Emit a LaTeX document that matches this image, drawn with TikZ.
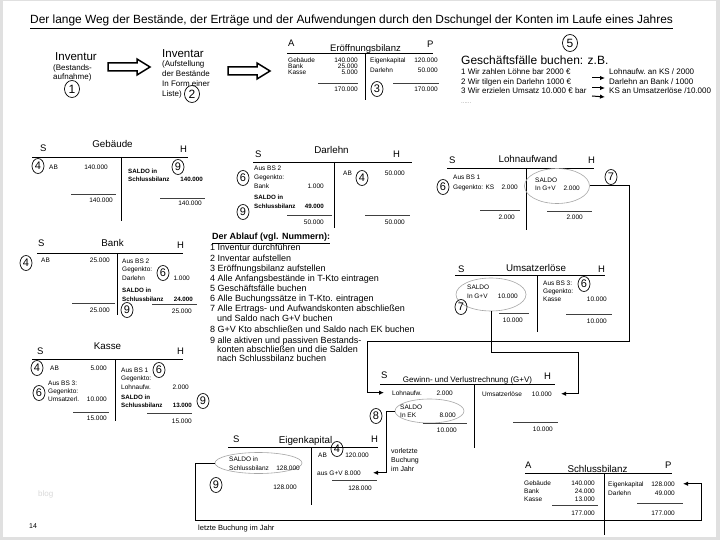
\documentclass[tikz,border=0pt]{standalone}
\usepackage{fontspec}
\setmainfont{Liberation Sans}
\usetikzlibrary{shapes.geometric,arrows.meta}
\tikzset{
 sm/.style={font=\fontsize{6.5}{7}\selectfont, inner sep=0},
 smb/.style={font=\bfseries\fontsize{6.2}{7}\selectfont, inner sep=0},
 L/.style={anchor=base west},
 R/.style={anchor=base east},
 ttl/.style={font=\fontsize{9.8}{11}\selectfont, inner sep=0, anchor=base},
 sh/.style={font=\fontsize{9.5}{11}\selectfont, inner sep=0, anchor=base west},
 mid/.style={font=\fontsize{8}{10}\selectfont, inner sep=0, anchor=base west},
 lst/.style={font=\fontsize{9}{10}\selectfont, inner sep=0, anchor=base west},
 big/.style={font=\fontsize{11.5}{13}\selectfont, inner sep=0, anchor=base west},
 num/.style={draw, ellipse, minimum width=12pt, minimum height=15pt, inner sep=0, line width=0.7pt, font=\fontsize{11}{11}\selectfont},
 bignum/.style={num, minimum width=15pt, minimum height=17pt, font=\fontsize{12}{12}\selectfont},
 tline/.style={line width=0.9pt},
 sline/.style={line width=0.7pt, black!75},
 sal/.style={draw=black!35, ellipse, line width=0.6pt, inner sep=0},
 conn/.style={line width=1pt},
 tip/.style={-{Latex[length=5pt,width=4.5pt]}},
 outarrow/.style={draw, line width=1.5pt, fill=white, line join=miter},
}
\begin{document}
\begin{tikzpicture}[x=1pt,y=-1pt]
\useasboundingbox (0,0) rectangle (720,540);
\fill[black!12] (0,0) rectangle (720,540);
\fill[white] (3,1) rectangle (716,537);

% title
\node[font=\fontsize{11.9}{13}\selectfont, inner sep=0, anchor=base west] (title) at (30,24) {\underline{Der lange Weg der Bestände, der Erträge und der Aufwendungen durch den Dschungel der Konten im Laufe eines Jahres}};

% Inventur / Inventar
\node[big] (inv) at (55,61) {Inventur};
\node[mid] (inv1) at (53,71) {(Bestands-};
\node[mid] (inv2) at (53,80) {aufnahme)};
\node[bignum] (c1) at (72,89) {1};
\draw[outarrow] (108,63) -- (137,63) -- (137,59) -- (150,67) -- (137,75) -- (137,71) -- (108,71) -- cycle;
\node[big] (ivt) at (162,58) {Inventar};
\node[mid] (ivt1) at (162,67) {(Aufstellung};
\node[mid] (ivt2) at (162,77) {der Bestände};
\node[mid] (ivt3) at (162,87) {In Form einer};
\node[mid] (ivt4) at (162,97) {Liste)};
\node[bignum] (c2) at (192,94) {2};
\draw[outarrow] (228,67) -- (257,67) -- (257,63) -- (270,71) -- (257,79) -- (257,75) -- (228,75) -- cycle;

% Eröffnungsbilanz
\node[sh] (eA) at (288,47) {A};
\node[font=\fontsize{9.5}{11}\selectfont, inner sep=0, anchor=base] (eT) at (365.5,52) {Eröffnungsbilanz};
\node[sh] (eP) at (427,48) {P};
\draw[tline] (287,53) -- (433,53);
\draw[tline] (365,53) -- (365,100);
\node[sm,L] (e1) at (288,62.5) {Gebäude}; \node[sm,R] (e1n) at (358,62.5) {140.000};
\node[sm,L] (e2) at (288,68.5) {Bank}; \node[sm,R] (e2n) at (358,68.5) {25.000};
\node[sm,L] (e3) at (288,74.5) {Kasse}; \node[sm,R] (e3n) at (358,74.5) {5.000};
\draw[sline] (318,83) -- (358,83);
\node[sm,R] (e4n) at (358,92) {170.000};
\node[sm,L] (e5) at (370,63) {Eigenkapital}; \node[sm,R] (e5n) at (438,63) {120.000};
\node[sm,L] (e6) at (370,73) {Darlehn}; \node[sm,R] (e6n) at (438,73) {50.000};
\draw[sline] (393,83) -- (439,83);
\node[sm,R] (e7n) at (438,92) {170.000};
\node[num] (c3) at (377,89) {3};

% Geschäftsfälle
\node[bignum] (c5) at (570,43) {5};
\node[font=\fontsize{12}{13}\selectfont, inner sep=0, anchor=base west] (gf) at (461,65) {Geschäftsfälle buchen: z.B.};
\node[mid] (gf1) at (461,75) {1 Wir zahlen Löhne bar 2000 €};
\node[mid] (gf2) at (461,85) {2 Wir tilgen ein Darlehn 1000 €};
\node[mid] (gf3) at (461,94) {3 Wir erzielen Umsatz 10.000 € bar};
\node[font=\fontsize{6}{7}\selectfont, inner sep=0, anchor=base west, black!45] (gf4) at (461,104) {......};
\node[mid] (gr1) at (609,75) {Lohnaufw.\ an KS / 2000};
\node[mid] (gr2) at (609,85) {Darlehn an Bank / 1000};
\node[mid] (gr3) at (609,94) {KS an Umsatzerlöse /10.000};
\draw[conn,tip] ([xshift=-17pt,yshift=-3pt]gr1.base west) -- ([xshift=-4pt,yshift=-3pt]gr1.base west);
\draw[conn,tip] ([xshift=-17pt,yshift=-3pt]gr2.base west) -- ([xshift=-4pt,yshift=-3pt]gr2.base west);
\draw[conn,tip] ([xshift=-17pt,yshift=-2pt]gr3.base west) -- ([xshift=-4pt,yshift=-3pt]gr3.base west);

% Gebäude
\node[sh] (gS) at (40,152) {S};
\node[ttl] (gT) at (112.5,148) {Gebäude};
\node[sh] (gH) at (180,153) {H};
\draw[tline] (32,157) -- (188,157);
\draw[tline] (121,157) -- (121,221);
\node[num] (g4) at (38,166) {4};
\node[sm,L] (g1) at (49,170) {AB}; \node[sm,R] (g1n) at (108,170) {140.000};
\draw[sline] (71,194) -- (116,194);
\node[sm,R] (g2n) at (113,203) {140.000};
\node[smb,L] (g3) at (128,174) {SALDO in};
\node[smb,L] (g3b) at (128,182) {Schlussbilanz}; \node[smb,R] (g3n) at (203,182) {140.000};
\node[num] (g9) at (178,167) {9};
\draw[sline] (160,198) -- (205,198);
\node[sm,R] (g4n) at (202,206) {140.000};

% Darlehn
\node[sh] (dS) at (255,158) {S};
\node[ttl] (dT) at (331.5,154) {Darlehn};
\node[sh] (dH) at (393,158) {H};
\draw[tline] (253,162) -- (412,162);
\draw[tline] (334,162) -- (334,228);
\node[num] (d6) at (243,178) {6};
\node[sm,L] (d1) at (254,171) {Aus BS 2};
\node[sm,L] (d2) at (254,180) {Gegenkto:};
\node[sm,L] (d3) at (254,189) {Bank}; \node[sm,R] (d3n) at (324,189) {1.000};
\node[smb,L] (d4) at (254,200) {SALDO in};
\node[smb,L] (d5) at (254,208) {Schlussbilanz}; \node[smb,R] (d5n) at (324,208) {49.000};
\node[num] (d9) at (243,212) {9};
\draw[sline] (287,215) -- (332,215);
\node[sm,R] (d6n) at (324,225) {50.000};
\node[sm,L] (d7) at (343,176) {AB};
\node[num] (d4c) at (362,178) {4};
\node[sm,R] (d7n) at (405,176) {50.000};
\draw[sline] (365,215) -- (410,215);
\node[sm,R] (d8n) at (405,225) {50.000};

% Lohnaufwand
\node[sh] (lS) at (449,164) {S};
\node[ttl] (lT) at (528,163) {Lohnaufwand};
\node[sh] (lH) at (588,164) {H};
\draw[tline] (447,168) -- (594,168);
\draw[tline] (526,168) -- (526,230);
\node[num] (l6) at (443,187) {6};
\node[sm,L] (l1) at (453,180) {Aus BS 1};
\node[sm,L] (l2) at (453,190) {Gegenkto: KS}; \node[sm,R] (l2n) at (518,190) {2.000};
\draw[sline] (480,210) -- (520,210);
\node[sm,R] (l3n) at (515,220) {2.000};
\node[sal, minimum width=65pt, minimum height=35pt] (lel) at (557,186) {};
\node[sm,L] (l4) at (535,183) {SALDO};
\node[sm,L] (l5) at (535,191) {In G+V}; \node[sm,R] (l5n) at (580,191) {2.000};
\draw[sline] (547,211) -- (592,211);
\node[sm,R] (l6n) at (583,220) {2.000};
\node[num] (l7) at (611,177) {7};

% Bank
\node[sh] (bS) at (38,247) {S};
\node[ttl] (bT) at (112.5,246) {Bank};
\node[sh] (bH) at (177,248) {H};
\draw[tline] (37,253) -- (183,253);
\draw[tline] (117,253) -- (117,315);
\node[num] (b4) at (26,263) {4};
\node[sm,L] (b1) at (41,262) {AB}; \node[sm,R] (b1n) at (110,262) {25.000};
\draw[sline] (72,303) -- (115,303);
\node[sm,R] (b2n) at (110,312) {25.000};
\node[sm,L] (b3) at (122,263) {Aus BS 2};
\node[sm,L] (b4t) at (122,271) {Gegenkto:};
\node[sm,L] (b5) at (122,280) {Darlehn};
\node[num] (b6) at (163,273) {6};
\node[sm,R] (b5n) at (190,280) {1.000};
\node[smb,L] (b7) at (122,292) {SALDO in};
\node[smb,L] (b8) at (122,301) {Schlussbilanz}; \node[smb,R] (b8n) at (193,301) {24.000};
\node[num] (b9) at (127,310) {9};
\draw[sline] (152,304) -- (197,304);
\node[sm,R] (b9n) at (192,313) {25.000};

% Ablauf
\node[font=\bfseries\fontsize{9}{10}\selectfont, inner sep=0, anchor=base west] (ah) at (212,240) {\underline{Der Ablauf (vgl. Nummern):}};
\node[lst] (a1) at (210,251) {1 Inventur durchführen};
\node[lst] (a2) at (210,261) {2 Inventar aufstellen};
\node[lst] (a3) at (210,271) {3 Eröffnungsbilanz aufstellen};
\node[lst] (a4) at (210,281) {4 Alle Anfangsbestände in T-Kto eintragen};
\node[lst] (a5) at (210,291) {5 Geschäftsfälle buchen};
\node[lst] (a6) at (210,301) {6 Alle Buchungssätze in T-Kto. eintragen};
\node[lst] (a7) at (210,311) {7 Alle Ertrags- und Aufwandskonten abschließen};
\node[lst] (a7b) at (217,321) {und Saldo nach G+V buchen};
\node[lst] (a8) at (210,332) {8 G+V Kto abschließen und Saldo nach EK buchen};
\node[lst] (a9) at (210,343) {9 alle aktiven und passiven Bestands-};
\node[lst] (a9b) at (217,352) {konten abschließen und die Salden};
\node[lst] (a9c) at (217,361) {nach Schlussbilanz buchen};

% Umsatzerlöse
\node[sh] (uS) at (458,272) {S};
\node[ttl] (uT) at (536,271) {Umsatzerlöse};
\node[sh] (uH) at (598,272) {H};
\draw[tline] (455,275) -- (605,275);
\draw[tline] (537,275) -- (537,332);
\node[sal, minimum width=70pt, minimum height=33pt] (uel) at (491,294.5) {};
\node[sm,L] (u1) at (467,289) {SALDO};
\node[sm,L] (u2) at (467,298) {In G+V}; \node[sm,R] (u2n) at (518,298) {10.000};
\node[num] (u7) at (461,307) {7};
\draw[sline] (499,313) -- (529,313);
\node[sm,R] (u3n) at (523,322) {10.000};
\node[sm,L] (u4) at (543,285) {Aus BS 3:};
\node[num] (u6) at (584,284) {6};
\node[sm,L] (u5) at (543,293) {Gegenkto:};
\node[sm,L] (u6t) at (543,301) {Kasse}; \node[sm,R] (u6n) at (607,301) {10.000};
\draw[sline] (566,314) -- (612,314);
\node[sm,R] (u7n) at (607,323) {10.000};

% Kasse
\node[sh] (kS) at (37,354) {S};
\node[ttl] (kT) at (107.5,349) {Kasse};
\node[sh] (kH) at (177,354) {H};
\draw[tline] (32,359) -- (183,359);
\draw[tline] (115,359) -- (115,421);
\node[num] (k4) at (37,368) {4};
\node[sm,L] (k1) at (50,370) {AB}; \node[sm,R] (k1n) at (107,370) {5.000};
\node[num] (k6) at (39,393) {6};
\node[sm,L] (k2) at (48,385) {Aus BS 3:};
\node[sm,L] (k3) at (48,393) {Gegenkto:};
\node[sm,L] (k4t) at (48,401) {Umsatzerl.}; \node[sm,R] (k4n) at (107,401) {10.000};
\draw[sline] (73,412) -- (109,412);
\node[sm,R] (k5n) at (107,420) {15.000};
\node[sm,L] (k6t) at (121,372) {Aus BS 1};
\node[num] (k6c) at (159,370) {6};
\node[sm,L] (k7) at (121,380) {Gegenkto:};
\node[sm,L] (k8) at (121,389) {Lohnaufw.}; \node[sm,R] (k8n) at (189,389) {2.000};
\node[smb,L] (k9) at (121,399) {SALDO in};
\node[smb,L] (k10) at (121,407) {Schlussbilanz}; \node[smb,R] (k10n) at (192,407) {13.000};
\node[num] (k9c) at (203,401) {9};
\draw[sline] (147,413) -- (192,413);
\node[sm,R] (k11n) at (192,423) {15.000};

% GuV
\node[sh] (vS) at (381,378) {S};
\node[font=\fontsize{8}{9}\selectfont, inner sep=0, anchor=base] (vT) at (467.5,382) {Gewinn- und Verlustrechnung (G+V)};
\node[sh] (vH) at (544,379) {H};
\draw[tline] (380,384) -- (555,384);
\draw[tline] (474,384) -- (474,448);
\node[sm,L] (gl1) at (392,395) {Lohnaufw.}; \node[sm,R] (gl1n) at (453,395) {2.000};
\node[sal, minimum width=69pt, minimum height=24pt] (gel) at (429.5,411) {};
\node[sm,L] (gl2) at (400,409) {SALDO};
\node[sm,L] (gl3) at (400,417) {In EK}; \node[sm,R] (gl3n) at (456,417) {8.000};
\node[num] (v8) at (376,416) {8};
\draw[sline] (423,423) -- (467,423);
\node[sm,R] (gl4n) at (457,432) {10.000};
\node[sm,L] (gu1) at (482,396) {Umsatzerlöse}; \node[sm,R] (gu2) at (552,396) {10.000};
\draw[sline] (513,422) -- (558,422);
\node[sm,R] (gu3) at (553,431) {10.000};
\node[font=\fontsize{7}{8}\selectfont, inner sep=0, anchor=base west] (vl1) at (391,453) {vorletzte};
\node[font=\fontsize{7}{8}\selectfont, inner sep=0, anchor=base west] (vl2) at (391,462) {Buchung};
\node[font=\fontsize{7}{8}\selectfont, inner sep=0, anchor=base west] (vl3) at (391,471) {im Jahr};

% Eigenkapital
\node[sh] (ekS) at (233,442) {S};
\node[ttl] (ekT) at (305.5,443) {Eigenkapital};
\node[sh] (ekH) at (371,442) {H};
\draw[tline] (228,447) -- (378,447);
\draw[tline] (311,447) -- (311,505);
\node[num] (ek4c) at (337,449) {4};
\node[sm,L] (ek1) at (318,457) {AB}; \node[sm,R] (ek1n) at (369,457) {120.000};
\node[sm,L] (ek2) at (317,475) {aus G+V}; \node[sm,R] (ek4) at (361,475) {8.000};
\draw[sline] (332,480) -- (377,480);
\node[sm,R] (ek5) at (372,490) {128.000};
\node[sal, minimum width=87pt, minimum height=21pt] (eel) at (258.5,463) {};
\node[sm,L] (ek6) at (229,461) {SALDO in};
\node[sm,L] (ek7) at (229,470) {Schlussbilanz}; \node[sm,R] (ek7n) at (300,470) {128.000};
\node[num] (ek9) at (216,485) {9};
\node[sm,R] (ek8) at (297,489) {128.000};

% Schlussbilanz
\node[sh] (sA) at (525,468) {A};
\node[ttl] (sT) at (597.5,472) {Schlussbilanz};
\node[sh] (sP) at (665,468) {P};
\draw[tline] (525,473) -- (672,473);
\draw[tline] (604,473) -- (604,535);
\node[sm,L] (sb1) at (524,485) {Gebäude}; \node[sm,R] (sb1n) at (595,485) {140.000};
\node[sm,L] (sb2) at (524,493) {Bank}; \node[sm,R] (sb2n) at (595,493) {24.000};
\node[sm,L] (sb3) at (524,501) {Kasse}; \node[sm,R] (sb3n) at (595,501) {13.000};
\draw[sline] (552,505) -- (598,505);
\node[sm,R] (sb4) at (595,515) {177.000};
\node[sm,L] (sb5t) at (608,486) {Eigenkapital}; \node[sm,R] (sb5) at (675,486) {128.000};
\node[sm,L] (sb6) at (608,495) {Darlehn}; \node[sm,R] (sb6n) at (675,495) {49.000};
\draw[sline] (637,503) -- (683,503);
\node[sm,R] (sb7) at (675,515) {177.000};

% connectors
\coordinate (k1c) at (629,341);
\draw[conn,tip] (lel.east) -| (k1c) -| ([xshift=-25pt]gl1.west) -- ([xshift=-8pt]gl1.west);
\coordinate (k3c) at (578,352);
\draw[conn,tip] (uel.south) |- (k3c) |- ([xshift=9pt]gu2.east);
\draw[conn,tip] (gel.west) -| ([xshift=25pt]ek4.east) -- ([xshift=12pt]ek4.east);
\coordinate (k5c) at (195,520);
\draw[conn,tip] (eel.west) -| (k5c) -| ([xshift=26pt]sb5.east) -- ([xshift=8pt]sb5.east);

% misc
\node[font=\fontsize{7}{8}\selectfont, inner sep=0, anchor=base west] (pg) at (29,528) {14};
\node[font=\fontsize{7.5}{8}\selectfont, inner sep=0, anchor=base west] (lb) at (198,530) {letzte Buchung im Jahr};
\node[font=\fontsize{8}{9}\selectfont, inner sep=0, anchor=base west, black!15] (blog) at (38,496) {blog};
\end{tikzpicture}
\end{document}
